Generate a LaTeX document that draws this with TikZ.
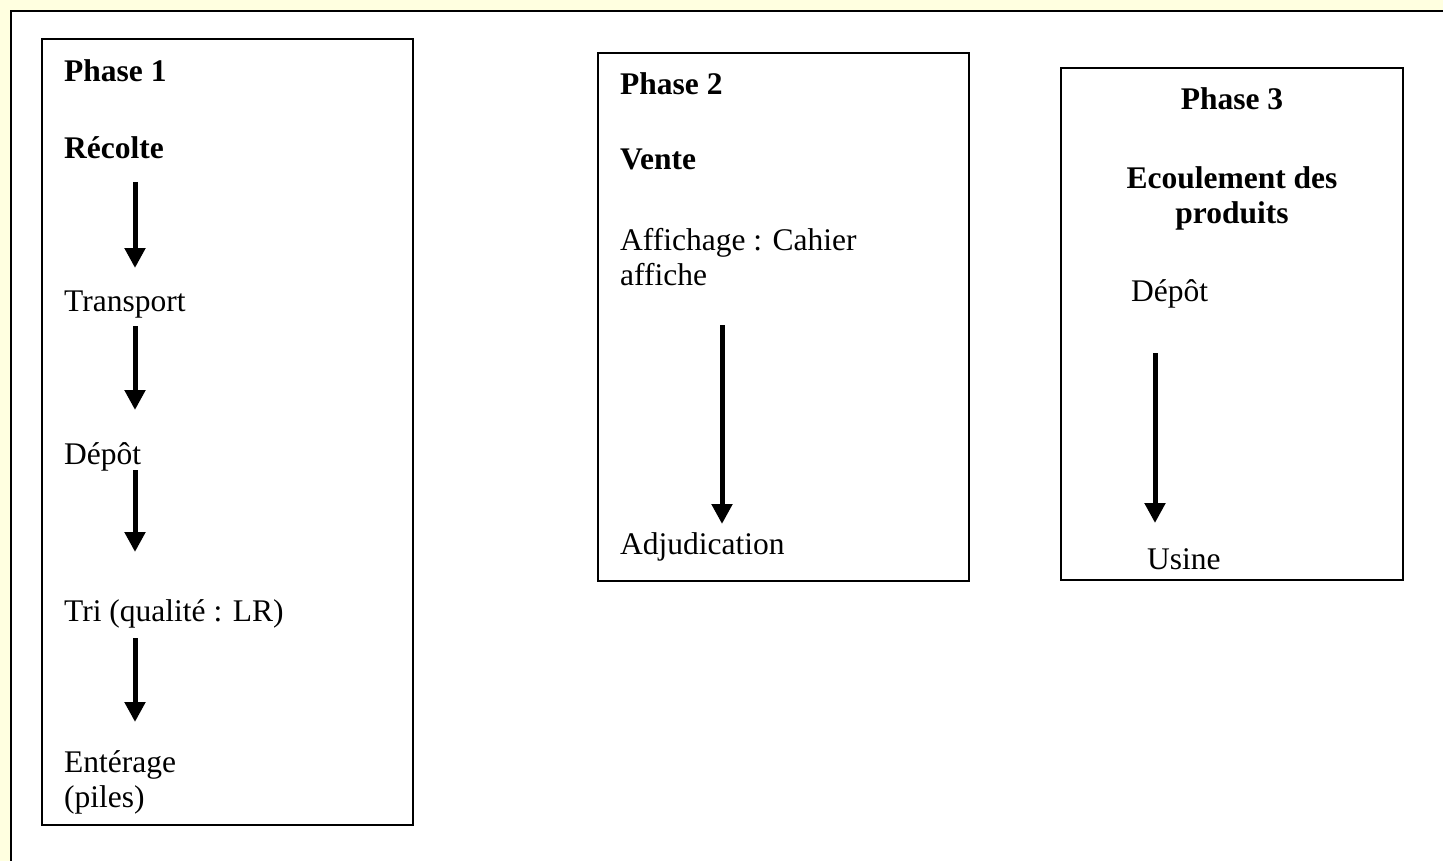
\documentclass[tikz,border=0pt]{standalone}
\usepackage{fontspec}
\setmainfont{Liberation Serif}
\usetikzlibrary{arrows.meta}
\definecolor{bgyellow}{RGB}{255,255,224}
\tikzset{
  phasebox/.style={draw=black, line width=2pt},
  txt/.style={anchor=base west, inner sep=0pt, font=\fontsize{31.5}{35}\selectfont},
  btxt/.style={txt, font=\fontsize{31.5}{35}\selectfont\bfseries},
  flow/.style={line width=5pt, -{Triangle[length=20pt,width=20pt]}},
}
\begin{document}
\begin{tikzpicture}[x=1pt,y=-1pt]
\useasboundingbox (0,0) rectangle (1443,861);
\fill[bgyellow] (0,0) rectangle (1443,861);
\fill[white] (11,11) rectangle (1443,861);
\draw[line width=2.5pt] (11,861) -- (11,11) -- (1443,11);

% boxes
\draw[phasebox] (42,39) rectangle (413,825);
\draw[phasebox] (598,53) rectangle (969,581);
\draw[phasebox] (1061,68) rectangle (1403,580);

% Phase 1
\node[btxt] (p1) at (64,82) {Phase 1};
\node[btxt] (recolte) at (64,159) {Récolte};
\node[txt] (transport) at (64,311) {Transport};
\node[txt] (depot1) at (64,464) {Dépôt};
\node[txt] (tri) at (64,621) {Tri (qualité : LR)};
\node[txt, align=left] (enterage) at (64,807) {Entérage\\(piles)};

\coordinate (a1s) at (135,182); \coordinate (a1e) at (135,268);
\coordinate (a2s) at (135,326); \coordinate (a2e) at (135,410);
\coordinate (a3s) at (135,470); \coordinate (a3e) at (135,552);
\coordinate (a4s) at (135,638); \coordinate (a4e) at (135,722);
\draw[flow] (a1s) -- (a1e);
\draw[flow] (a2s) -- (a2e);
\draw[flow] (a3s) -- (a3e);
\draw[flow] (a4s) -- (a4e);

% Phase 2
\node[btxt] (p2) at (620,95) {Phase 2};
\node[btxt] (vente) at (620,170) {Vente};
\node[txt, align=left] (affichage) at (620,285) {Affichage : Cahier\\affiche};
\node[txt] (adjudication) at (620,554) {Adjudication};
\coordinate (b1s) at (722,325); \coordinate (b1e) at (722,524);
\draw[flow] (b1s) -- (b1e);

% Phase 3
\node[btxt, anchor=base] (p3) at (1232,110) {Phase 3};
\node[btxt, anchor=base, align=center] (ecoul) at (1232,224) {Ecoulement des\\produits};
\node[txt] (depot3) at (1131,301) {Dépôt};
\node[txt] (usine) at (1147,569) {Usine};
\coordinate (c1s) at (1155,353); \coordinate (c1e) at (1155,523);
\draw[flow] (c1s) -- (c1e);
\end{tikzpicture}
\end{document}
